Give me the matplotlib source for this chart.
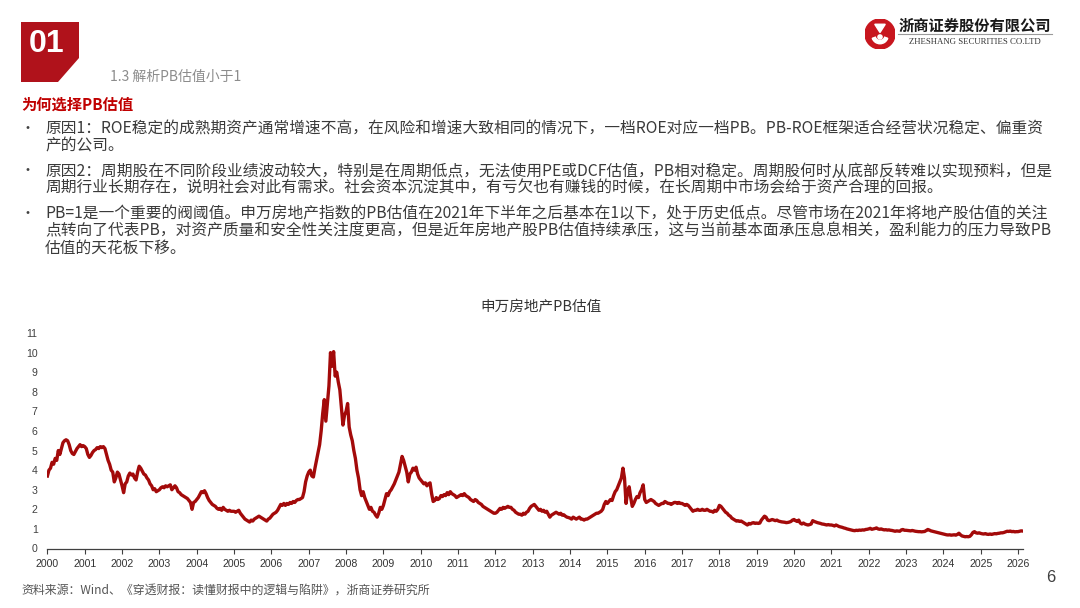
import numpy as np
import matplotlib
matplotlib.use("Agg")
import matplotlib.pyplot as plt
from matplotlib.patches import Polygon, Circle, Wedge

plt.rcParams['font.family'] = ['Noto Sans CJK SC', 'DejaVu Sans']

# ---- 申万房地产 PB, semi-monthly readings (24 per year) ----
pb_2000_2004 = [
    3.7, 4.0, 4.1, 4.4, 4.3, 4.6, 4.5, 5.0, 4.8, 5.1, 5.4, 5.5, 5.55, 5.5, 5.3, 5.0, 4.85, 4.8, 4.95, 5.1, 5.2, 5.3, 5.2, 5.25,
    5.2, 5.1, 4.8, 4.65, 4.75, 4.9, 5.0, 5.05, 5.15, 5.1, 5.2, 5.15, 5.2, 5.1, 4.8, 4.5, 4.3, 4.0, 3.9, 3.4, 3.6, 3.9, 3.8, 3.5,
    3.2, 2.85, 3.3, 3.4, 3.7, 3.85, 3.75, 3.8, 3.6, 3.5, 3.9, 4.2, 4.1, 3.95, 3.8, 3.75, 3.6, 3.5, 3.3, 3.2, 3.0, 3.05, 2.9, 2.95,
    3.0, 3.1, 3.15, 3.1, 3.2, 3.15, 3.2, 3.25, 3.0, 3.1, 3.2, 3.1, 2.9, 2.85, 2.75, 2.7, 2.65, 2.6, 2.55, 2.45, 2.35, 2.0, 2.35, 2.4,
    2.5, 2.6, 2.75, 2.9, 2.85, 2.95, 2.8, 2.6, 2.45, 2.35, 2.25, 2.2, 2.15, 2.05, 2.0, 2.05, 1.95, 2.1, 2.0, 1.95, 1.9, 1.95, 1.9, 1.9,
]
pb_2005_2009 = [
    1.9, 1.85, 1.9, 1.95, 1.8, 1.7, 1.6, 1.5, 1.45, 1.4, 1.35, 1.45, 1.4, 1.5, 1.55, 1.6, 1.65, 1.6, 1.55, 1.5, 1.45, 1.4, 1.5, 1.55,
    1.65, 1.75, 1.8, 1.85, 1.95, 2.1, 2.25, 2.2, 2.3, 2.2, 2.3, 2.25, 2.35, 2.3, 2.4, 2.35, 2.45, 2.5, 2.5, 2.55, 2.6, 2.9, 3.4, 3.7,
    3.9, 4.0, 3.7, 3.65, 4.1, 4.5, 4.9, 5.3, 6.0, 6.9, 7.6, 6.5, 7.4, 8.3, 10.0, 9.3, 10.05, 8.8, 9.0, 8.5, 8.1, 7.2, 6.3, 6.8,
    7.0, 7.4, 6.2, 5.8, 5.5, 5.0, 4.6, 4.0, 3.6, 3.0, 2.7, 2.9, 2.6, 2.4, 2.2, 2.0, 2.1, 1.9, 1.85, 1.7, 1.6, 1.8, 2.1, 2.0,
    2.2, 2.5, 2.8, 2.7, 2.9, 3.0, 3.15, 3.3, 3.5, 3.7, 3.9, 4.3, 4.7, 4.5, 4.2, 3.9, 3.4, 3.8, 3.9, 4.1, 4.0, 4.15, 3.8, 3.6,
]
pb_2010_2014 = [
    3.5, 3.4, 3.3, 3.35, 3.2, 3.3, 3.35, 2.8, 2.4, 2.45, 2.6, 2.5, 2.55, 2.7, 2.65, 2.75, 2.7, 2.85, 2.75, 2.9, 2.8, 2.75, 2.7, 2.6,
    2.65, 2.7, 2.75, 2.7, 2.8, 2.7, 2.65, 2.6, 2.5, 2.45, 2.4, 2.5, 2.45, 2.35, 2.3, 2.25, 2.15, 2.1, 2.05, 2.0, 1.95, 1.9, 1.85, 1.8,
    1.8, 1.85, 1.95, 2.05, 2.0, 2.1, 2.05, 2.1, 2.15, 2.1, 2.1, 2.0, 1.95, 1.85, 1.8, 1.75, 1.75, 1.7, 1.8, 1.75, 1.85, 1.9, 2.05, 2.15,
    2.2, 2.25, 2.15, 2.05, 1.95, 2.0, 1.9, 1.95, 1.85, 1.9, 1.75, 1.6, 1.7, 1.75, 1.8, 1.85, 1.8, 1.75, 1.8, 1.7, 1.72, 1.65, 1.6, 1.58,
    1.55, 1.5, 1.6, 1.55, 1.5, 1.55, 1.6, 1.5, 1.5, 1.45, 1.5, 1.5, 1.55, 1.6, 1.65, 1.7, 1.75, 1.8, 1.8, 1.85, 1.9, 2.0, 2.25, 2.4,
]
pb_2015_2019 = [
    2.3, 2.4, 2.5, 2.45, 2.7, 2.9, 3.0, 3.2, 3.4, 3.6, 4.1, 3.6, 2.3, 2.9, 3.15, 2.6, 2.15, 2.3, 2.5, 2.65, 2.6, 2.85, 3.0, 3.25,
    2.5, 2.35, 2.4, 2.45, 2.5, 2.45, 2.4, 2.3, 2.25, 2.2, 2.25, 2.3, 2.3, 2.4, 2.35, 2.3, 2.3, 2.25, 2.3, 2.35, 2.35, 2.3, 2.35, 2.3,
    2.3, 2.25, 2.2, 2.25, 2.2, 2.1, 2.0, 1.9, 1.95, 1.95, 2.0, 1.95, 1.95, 2.0, 1.95, 1.95, 2.0, 1.95, 1.9, 1.9, 1.85, 1.95, 1.9, 2.0,
    2.2, 2.15, 2.05, 1.95, 1.85, 1.8, 1.7, 1.65, 1.55, 1.5, 1.45, 1.4, 1.42, 1.38, 1.4, 1.35, 1.3, 1.25, 1.2, 1.28, 1.25, 1.3, 1.32, 1.28,
    1.3, 1.28, 1.3, 1.45, 1.55, 1.65, 1.6, 1.45, 1.42, 1.45, 1.48, 1.45, 1.42, 1.45, 1.4, 1.38, 1.36, 1.35, 1.34, 1.32, 1.33, 1.35, 1.38, 1.45,
]
pb_2020_2026 = [
    1.48, 1.42, 1.38, 1.45, 1.3, 1.25, 1.3, 1.25, 1.22, 1.2, 1.22, 1.25, 1.42, 1.38, 1.35, 1.32, 1.3, 1.28, 1.25, 1.24, 1.22, 1.2, 1.22, 1.2,
    1.2, 1.18, 1.15, 1.2, 1.16, 1.12, 1.1, 1.08, 1.05, 1.03, 1.0, 0.98, 0.96, 0.94, 0.92, 0.91, 0.93, 0.92, 0.94, 0.93, 0.95, 0.94, 0.97, 0.98,
    1.0, 1.03, 0.98, 1.0, 1.02, 1.05, 1.0, 0.98, 1.0, 0.97, 0.95, 0.96, 0.94, 0.95, 0.93, 0.92, 0.9, 0.88, 0.9, 0.89, 0.88, 0.95, 0.97, 0.93,
    0.93, 0.92, 0.91, 0.9, 0.92, 0.9, 0.88, 0.87, 0.86, 0.86, 0.85, 0.86, 0.87, 0.92, 0.97, 0.94, 0.9, 0.88, 0.86, 0.84, 0.82, 0.8, 0.78, 0.76,
    0.74, 0.72, 0.7, 0.69, 0.7, 0.68, 0.69, 0.7, 0.68, 0.72, 0.78, 0.7, 0.64, 0.62, 0.6, 0.61, 0.6, 0.62, 0.7, 0.82, 0.86, 0.8, 0.78, 0.8,
    0.77, 0.75, 0.74, 0.76, 0.73, 0.72, 0.74, 0.72, 0.74, 0.76, 0.75, 0.77, 0.78, 0.8, 0.8, 0.82, 0.85, 0.88, 0.87, 0.89, 0.86, 0.87, 0.85, 0.86,
    0.86, 0.88, 0.9, 0.89,
]
series_start_year = 2000
x_tick_years = list(range(2000, 2027))
y_ticks = list(range(0, 12))

chart_title = "申万房地产PB估值"
section_no = "01"
section_title = "1.3 解析PB估值小于1"
heading = "为何选择PB估值"
bullets = [
    ["原因1：ROE稳定的成熟期资产通常增速不高，在风险和增速大致相同的情况下，一档ROE对应一档PB。PB-ROE框架适合经营状况稳定、偏重资",
     "产的公司。"],
    ["原因2：周期股在不同阶段业绩波动较大，特别是在周期低点，无法使用PE或DCF估值，PB相对稳定。周期股何时从底部反转难以实现预料，但是",
     "周期行业长期存在，说明社会对此有需求。社会资本沉淀其中，有亏欠也有赚钱的时候，在长周期中市场会给于资产合理的回报。"],
    ["PB=1是一个重要的阀阈值。申万房地产指数的PB估值在2021年下半年之后基本在1以下，处于历史低点。尽管市场在2021年将地产股估值的关注",
     "点转向了代表PB，对资产质量和安全性关注度更高，但是近年房地产股PB估值持续承压，这与当前基本面承压息息相关，盈利能力的压力导致PB",
     "估值的天花板下移。"],
]
source_note = "资料来源：Wind、《穿透财报：读懂财报中的逻辑与陷阱》，浙商证券研究所"
company_cn = "浙商证券股份有限公司"
company_en = "ZHESHANG SECURITIES CO.LTD"
page_no = "6"

pb = np.array(pb_2000_2004 + pb_2005_2009 + pb_2010_2014 + pb_2015_2019 + pb_2020_2026)
t = series_start_year + np.arange(len(pb)) / 24.0

W, H = 1080, 608
fig = plt.figure(figsize=(W / 100, H / 100), dpi=100)
fig.patch.set_facecolor("white")


def px(x, y):
    """pixel position (from top-left) -> figure fraction"""
    return x / W, 1 - y / H


# ---- header block ----
box = Polygon([px(21, 22), px(79, 22), px(79, 58), px(58, 82), px(21, 82)],
              closed=True, transform=fig.transFigure, facecolor="#B0121B", edgecolor="none")
fig.patches.append(box)
fig.text(*px(47, 44), section_no, color="white", fontsize=23, fontweight="bold",
         family=["Liberation Sans", "DejaVu Sans"], ha="center", va="center")
fig.text(*px(110, 77), section_title, color="#8C8C8C", fontsize=10, ha="left", va="center")

# ---- logo ----
ax_logo = fig.add_axes([865 / W, 1 - 49 / H, 30 / W, 30 / H])
ax_logo.set_xlim(-1, 1)
ax_logo.set_ylim(-1, 1)
ax_logo.set_aspect("equal")
ax_logo.axis("off")
ax_logo.add_patch(Circle((0, 0), 1.0, color="#C8161E"))
ax_logo.add_patch(Wedge((0, -0.1), 0.55, 200, 340, width=0.22, color="white"))
ax_logo.add_patch(Polygon([(-0.35, 0.65), (0.35, 0.65), (0.0, 0.1)], closed=True, color="white"))
ax_logo.add_patch(Circle((0, -0.2), 0.14, color="white"))
fig.text(*px(975, 26), company_cn, color="#1A1A1A", fontsize=11, fontweight="bold",
         ha="center", va="center")
fig.add_artist(plt.Line2D([898 / W, 1052 / W], [1 - 34 / H, 1 - 34 / H], color="#9A9A9A", lw=0.8))
fig.text(*px(975, 42.5), company_en, color="#333333", fontsize=6.3,
         family=["Liberation Serif", "DejaVu Serif"], ha="center", va="center")

# ---- text body ----
fig.text(*px(21, 105), heading, color="#C00000", fontsize=11, fontweight="bold", ha="left", va="center")
line_y = [[129, 146], [171, 188], [214, 231, 248]]
for lines, ys in zip(bullets, line_y):
    fig.text(*px(21, ys[0]), "•", color="#404040", fontsize=10, ha="left", va="center")
    for s, y in zip(lines, ys):
        fig.text(*px(45, y), s, color="#3A3A3A", fontsize=11.3, ha="left", va="center")

fig.text(*px(21, 590), source_note, color="#555555", fontsize=8.6, ha="left", va="center")
fig.text(*px(1051, 578), page_no, color="#404040", fontsize=12,
         family=["Liberation Sans", "DejaVu Sans"], ha="center", va="center")

# ---- chart ----
ax = fig.add_axes([47.4 / W, 1 - 548.5 / H, (1022.7 - 47.4) / W, (548.5 - 333) / H])
ax.plot(t, pb, color="#A30A0A", lw=2.4, solid_joinstyle="round")
ax.set_xlim(series_start_year, t[-1])
ax.set_ylim(0, 11)
ax.set_xticks(x_tick_years)
ax.set_xticklabels([str(y) for y in x_tick_years])
ax.set_yticks(y_ticks)
ax.set_yticklabels([str(v) for v in y_ticks])
for sp in ["top", "right", "left"]:
    ax.spines[sp].set_visible(False)
ax.spines["bottom"].set_color("#404040")
ax.spines["bottom"].set_linewidth(0.9)
ax.tick_params(axis="x", direction="out", length=3.5, width=0.8, color="#404040",
               pad=4, labelsize=7.6, labelcolor="#333333")
ax.tick_params(axis="y", length=0, pad=7, labelsize=7.6, labelcolor="#404040")
for lab in ax.get_xticklabels() + ax.get_yticklabels():
    lab.set_family(["Liberation Sans", "DejaVu Sans"])
ax.patch.set_alpha(0)

fig.text(*px(541, 307), chart_title, color="#333333", fontsize=10.5, ha="center", va="center")

fig.savefig("out.png", dpi=100, facecolor="white")
